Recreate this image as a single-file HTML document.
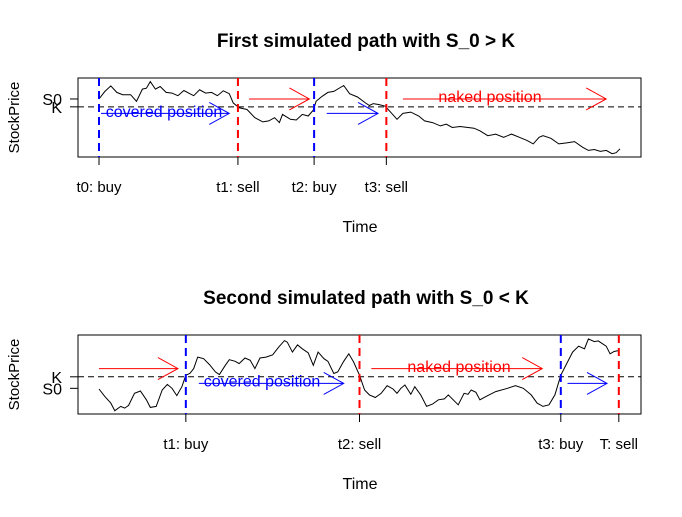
<!DOCTYPE html>
<html><head><meta charset="utf-8"><style>
body{margin:0;background:#fff}
svg text{font-family:"Liberation Sans",Arial,sans-serif}
</style></head><body>
<svg id="c" width="682" height="512" xmlns="http://www.w3.org/2000/svg"></svg>
<script>
// ---- data: panel 1 (S_0 > K) ----
const topTimes=[0,15,30,45,60,80,95,110,120,130,143,155,170,185,200,215,230,240,255,270,285,300,315,330,340,355,375,395,415,430,445,457,465,485,500,515,530,543,550,565,580,595,620,635,655,675,685,695,710,725,740,755,770,790,810,825,845,865,880,895,915,935,950,965,985,1005,1025,1045,1065,1085,1100,1115,1125,1145,1165,1185,1205,1225,1240,1255,1270,1285,1300,1310,1320];
const topPrices=[212,235,252,232,225,225,205,242,245,265,242,250,232,230,222,238,228,222,240,230,232,222,237,228,200,185,180,155,142,145,155,140,165,150,148,165,160,178,205,220,232,235,253,228,218,200,192,198,195,190,170,150,168,172,160,145,140,130,135,125,128,125,123,115,100,105,95,105,95,85,75,95,100,92,75,78,82,65,55,58,52,55,45,48,60];
const topK=188, topS0=212;
const topEvents=[0,352,545,728];
const topEventLabels=["t0: buy","t1: sell","t2: buy","t3: sell"];
const topEventColors=["blue","red","blue","red"];
const topArrows=[[5,330,168,"blue"],[380,533,212,"red"],[577,707,168,"blue"],[770,1285,212,"red"]];
// ---- data: panel 2 (S_0 < K) ----
const botTimes=[0,15,30,40,55,65,75,90,105,120,130,145,160,173,185,197,210,220,230,240,250,265,280,295,305,320,330,345,355,370,383,395,408,423,440,455,470,477,490,503,515,530,543,555,570,580,595,605,620,633,645,660,673,685,700,715,730,745,755,765,775,790,800,815,830,845,860,875,885,900,910,925,935,943,955,965,985,1005,1035,1055,1075,1095,1110,1125,1140,1155,1170,1185,1200,1215,1230,1240,1255,1265,1285,1295,1305,1317];
const botPrices=[108,85,65,42,55,50,58,95,102,75,52,55,105,122,110,88,115,150,155,170,205,200,182,160,152,180,197,192,185,202,195,170,202,205,212,235,255,250,220,242,230,218,180,220,200,192,155,160,192,215,190,150,105,90,82,95,118,108,95,110,120,92,115,90,55,62,75,78,90,72,60,95,92,105,98,75,88,100,110,118,110,90,65,55,60,90,150,185,220,238,230,260,252,254,238,215,222,225];
const botK=145, botS0=110;
const botEvents=[220,660,1170,1317];
const botEventLabels=["t1: buy","t2: sell","t3: buy","T: sell"];
const botEventColors=["blue","red","blue","red"];
const botArrows=[[0,200,170,"red"],[253,620,125,"blue"],[690,1123,170,"red"],[1187,1287,125,"blue"]];

const NS="http://www.w3.org/2000/svg";
const svg=document.getElementById('c');
function mk(tag,attrs,parent){const e=document.createElementNS(NS,tag);for(const k in attrs)e.setAttribute(k,attrs[k]);(parent||svg).appendChild(e);return e;}

function panel(o){
  const g=mk('g',{});
  
  
  const x0=78,x1=641,y0=o.top,y1=o.top+79;
  const xs=t=>99+(t-0)/1320*521;
  const ys=p=>y1-(p-o.pmin)/(o.pmax-o.pmin)*(y1-y0);
  const t=mk('text',{x:366,y:o.top-31,'text-anchor':'middle','font-size':19,'font-weight':'bold'},g);
  t.textContent=o.title;
  
  
  const box=mk('rect',{x:x0,y:y0,width:x1-x0,height:y1-y0,fill:'none',stroke:'#000'},g);
  
  
  const kl=mk('line',{x1:x0,x2:x1,y1:ys(o.K),y2:ys(o.K),stroke:'#000','stroke-dasharray':'6,4'},g);
  
  
  [[o.S0,'S0'],[o.K,'K']].forEach(([v,l])=>{
    mk('line',{x1:70,x2:x0,y1:ys(v),y2:ys(v),stroke:'#000'},g);
    const tx=mk('text',{x:62,y:ys(v)+6,'text-anchor':'end','font-size':16},g);
    tx.textContent=l;
    
    
  });
  const d=o.times.map((tt,i)=>(i?'L':'M')+xs(tt).toFixed(1)+','+ys(o.prices[i]).toFixed(1)).join('');
  const pth=mk('path',{d:d,fill:'none',stroke:'#000','stroke-width':1},g);
  
  
  o.events.forEach((ev,i)=>{
    const ln=mk('line',{x1:xs(ev),x2:xs(ev),y1:y0,y2:y1,stroke:o.colors[i],'stroke-width':2,'stroke-dasharray':'8,5'},g);
    
    
    mk('line',{x1:xs(ev),x2:xs(ev),y1:y1,y2:y1+8,stroke:'#000'},g);
    const tx=mk('text',{x:xs(ev),y:y1+35,'text-anchor':'middle','font-size':15},g);
    tx.textContent=o.labels[i];
    
    
  });
  o.arrows.forEach(a=>{
    const xa=xs(a[0]),xb=xs(a[1]),y=ys(a[2]);
    const ar=mk('path',{d:`M${xa},${y}L${xb},${y}M${xb-20},${y-11}L${xb},${y}L${xb-20},${y+11}`,fill:'none',stroke:a[3]},g);
    
    
  });
  o.texts.forEach(tt=>{
    const tx=mk('text',{x:tt[0],y:ys(tt[1])+5,'text-anchor':'middle','font-size':16,fill:tt[3]},g);
    tx.textContent=tt[2];
    
    
  });
  const xl=mk('text',{x:360,y:y1+75,'text-anchor':'middle','font-size':16},g);
  xl.textContent='Time';
  
  
  const yc=(y0+y1)/2;
  const yl=mk('text',{x:19,y:yc,'text-anchor':'middle','font-size':15},g);
  yl.setAttribute('transform',`rotate(-90 19 ${yc})`);
  yl.textContent='StockPrice';
  
  
}
panel({name:'panel-s0-above-k',title:'First simulated path with S_0 > K',top:78,pmin:35,pmax:276,
  times:topTimes,prices:topPrices,K:topK,S0:topS0,events:topEvents,labels:topEventLabels,colors:topEventColors,
  arrows:topArrows,texts:[[164,172,'covered position','blue'],[490,218,'naked position','red']]});
panel({name:'panel-s0-below-k',title:'Second simulated path with S_0 < K',top:335,pmin:32,pmax:272,
  times:botTimes,prices:botPrices,K:botK,S0:botS0,events:botEvents,labels:botEventLabels,colors:botEventColors,
  arrows:botArrows,texts:[[262,130,'covered position','blue'],[459,175,'naked position','red']]});
</script>
</body></html>
